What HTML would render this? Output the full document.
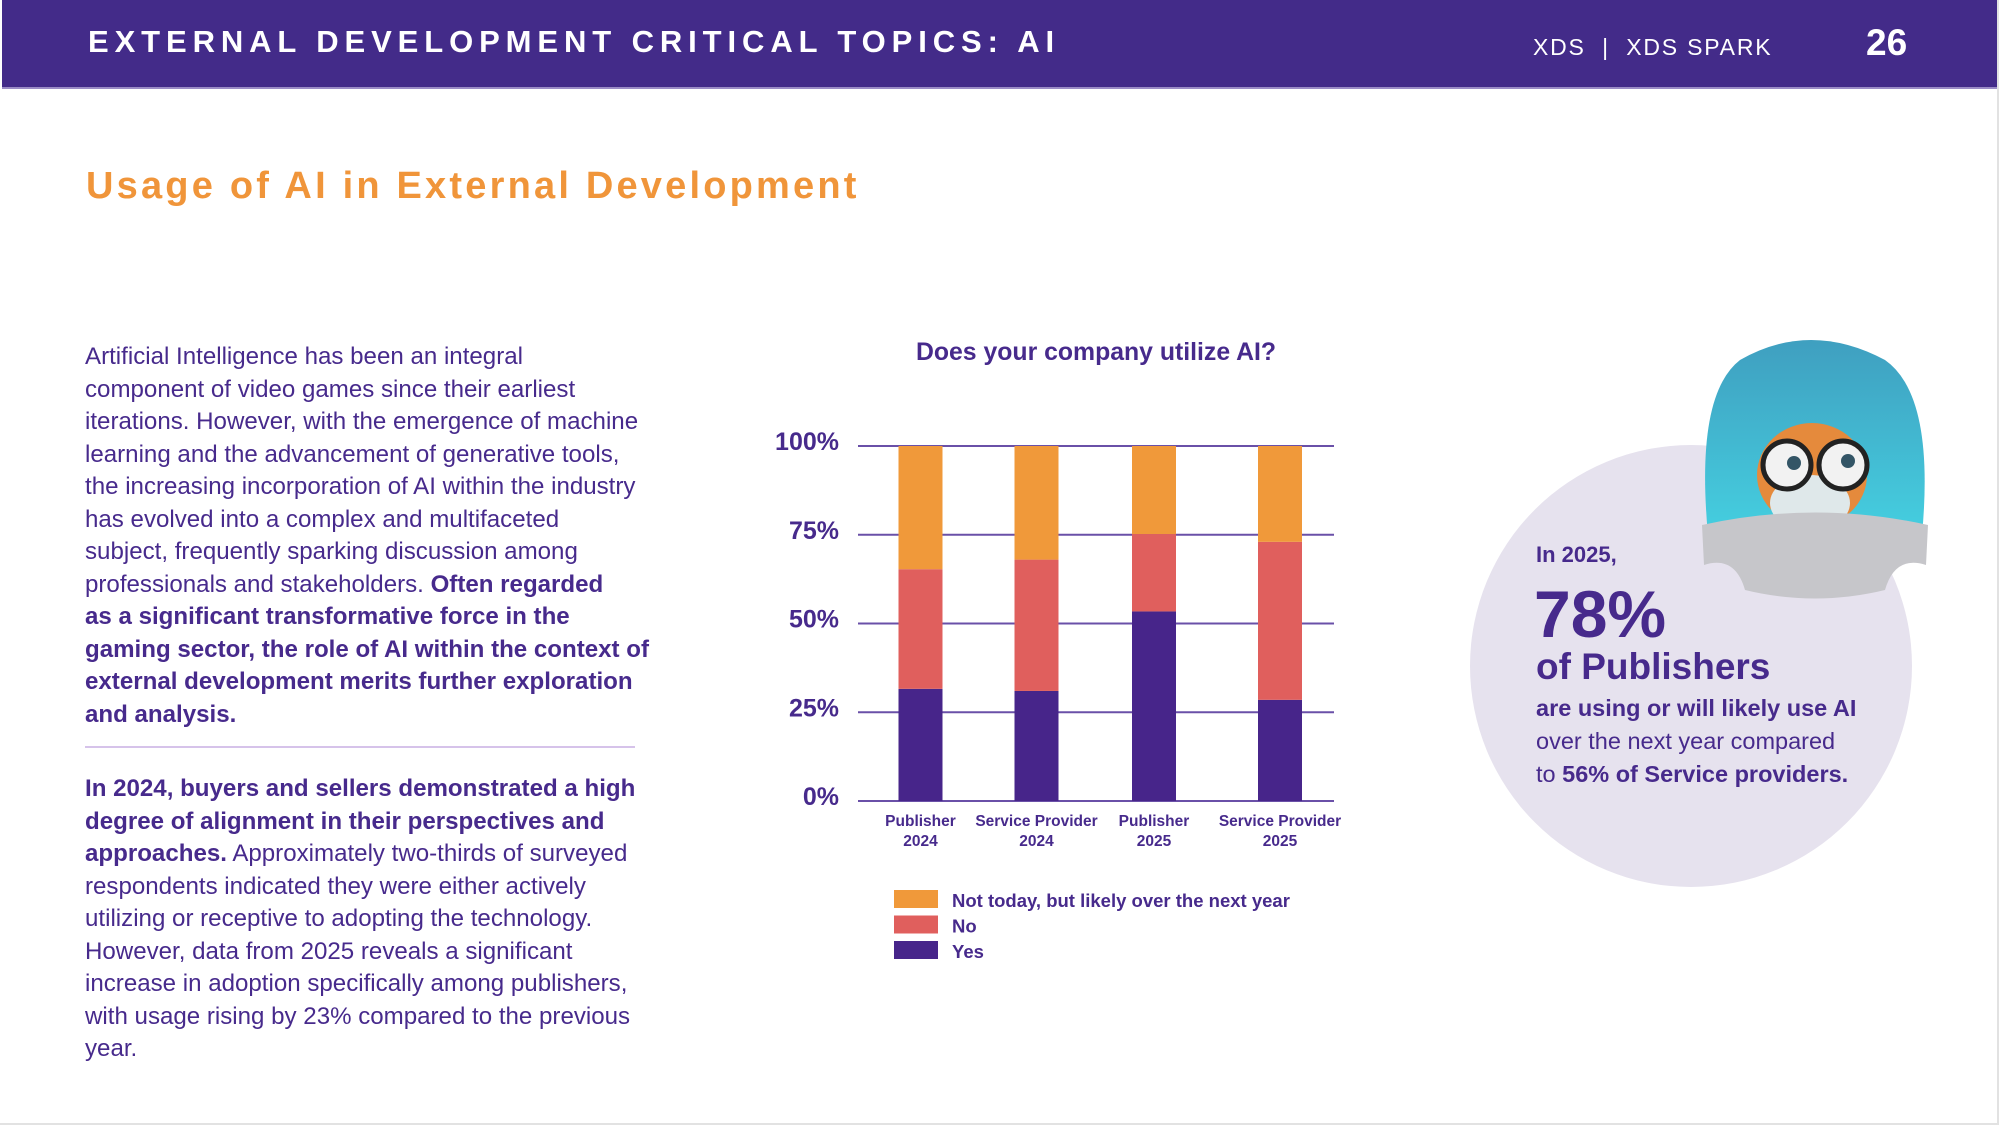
<!DOCTYPE html>
<html><head><meta charset="utf-8">
<style>
*{margin:0;padding:0;box-sizing:border-box}
body{width:1999px;height:1125px;background:#fff;font-family:"Liberation Sans",Arial,sans-serif;position:relative;overflow:hidden;color:#472a8c}
.hdr{position:absolute;left:2px;top:0;width:1995px;height:89px;background:#432b89;border-bottom:2px solid #9b8cc6}
.abs{position:absolute;white-space:nowrap}
.body{position:absolute;left:85px;width:620px;font-size:24.1px;line-height:32.5px;color:#472a8c}
.body b{font-weight:bold}
</style></head><body>
<div style="position:absolute;right:0;top:0;width:2px;height:1125px;background:#e2e2e2"></div>
<div style="position:absolute;left:0;bottom:0;width:1999px;height:2px;background:#e2e2e2"></div>
<div class="hdr">
  <div class="abs" style="left:86px;top:24px;font-size:31px;font-weight:bold;letter-spacing:5.9px;color:#fff">EXTERNAL DEVELOPMENT CRITICAL TOPICS: AI</div>
  <div class="abs" style="left:1531px;top:34px;font-size:23px;letter-spacing:1.8px;color:#fff">XDS &nbsp;|&nbsp; XDS SPARK</div>
  <div class="abs" style="left:1864px;top:22px;font-size:37px;font-weight:bold;color:#fff">26</div>
</div>
<div class="abs" style="left:86px;top:165px;font-size:38px;font-weight:bold;letter-spacing:3.2px;color:#f0953a">Usage of AI in External Development</div>

<div class="body" style="top:341px">Artificial Intelligence has been an integral<br>component of video games since their earliest<br>iterations. However, with the emergence of machine<br>learning and the advancement of generative tools,<br>the increasing incorporation of AI within the industry<br>has evolved into a complex and multifaceted<br>subject, frequently sparking discussion among<br>professionals and stakeholders. <b>Often regarded<br>as a significant transformative force in the<br>gaming sector, the role of AI within the context of<br>external development merits further exploration<br>and analysis.</b></div>
<div style="position:absolute;left:85px;top:746px;width:550px;height:2px;background:#d6c3ea"></div>
<div class="body" style="top:773px"><b>In 2024, buyers and sellers demonstrated a high<br>degree of alignment in their perspectives and<br>approaches.</b> Approximately two-thirds of surveyed<br>respondents indicated they were either actively<br>utilizing or receptive to adopting the technology.<br>However, data from 2025 reveals a significant<br>increase in adoption specifically among publishers,<br>with usage rising by 23% compared to the previous<br>year.</div>

<svg id="chart" style="position:absolute;left:0;top:0" width="1999" height="1125">
<text x="1096" y="360" text-anchor="middle" font-size="24.8" font-weight="bold" fill="#472a8c" font-family="Liberation Sans, Arial, sans-serif">Does your company utilize AI?</text>
<g id="grid"></g><g id="bars"></g><g id="xl"></g><g id="leg"></g>
</svg>

<div style="position:absolute;left:1470px;top:445px;width:442px;height:442px;border-radius:50%;background:#e6e2ee"></div>
<svg style="position:absolute;left:1690px;top:335px" width="250" height="270">
  <defs><linearGradient id="w" x1="0" y1="0" x2="0" y2="1"><stop offset="0" stop-color="#3f9fc0"/><stop offset="1" stop-color="#45cfe0"/></linearGradient></defs>
  <path d="M18 200 Q5 60 50 25 Q120 -15 195 25 Q245 60 232 200 Z" fill="url(#w)"/>
  <ellipse cx="122" cy="140" rx="55" ry="52" fill="#e58a3c"/>
  <ellipse cx="120" cy="168" rx="40" ry="28" fill="#dfe8ea"/>
  <circle cx="97" cy="130" r="24" fill="#f2f2f2" stroke="#222" stroke-width="5"/>
  <circle cx="153" cy="130" r="24" fill="#f2f2f2" stroke="#222" stroke-width="5"/>
  <circle cx="104" cy="128" r="7" fill="#356"/><circle cx="158" cy="126" r="7" fill="#356"/>
  <path d="M12 190 Q125 165 238 190 L236 230 Q205 220 195 255 Q125 272 55 255 Q45 220 14 230 Z" fill="#c6c6ca"/>
</svg>
<div class="abs" style="left:1536px;top:542px;font-size:22px;font-weight:bold;color:#472a8c">In 2025,</div>
<div class="abs" style="left:1534px;top:576px;font-size:66px;font-weight:bold;color:#472a8c">78%</div>
<div class="abs" style="left:1536px;top:646px;font-size:37px;font-weight:bold;color:#472a8c">of Publishers</div>
<div class="abs" style="left:1536px;top:692px;font-size:23.5px;line-height:33px;color:#472a8c"><b>are using or will likely use AI</b><br>over the next year compared<br>to <b>56% of Service providers.</b></div>

<script>
const categories=[["Publisher","2024"],["Service Provider","2024"],["Publisher","2025"],["Service Provider","2025"]];
const yesVals=[31.6,31,53.4,28.5];
const noVals=[33.7,37,21.8,44.5];
const notTodayVals=[34.7,32,24.8,27];
const tickVals=[0,25,50,75,100];
const tickLabels=["0%","25%","50%","75%","100%"];
const seriesNames=["Not today, but likely over the next year","No","Yes"];
const colors={yes:"#47258a",no:"#e05f5d",nt:"#f0993a"};
const NS="http://www.w3.org/2000/svg";
const y0=801,y1=446,xL=858,xR=1334;
const y=v=>y0-(v/100)*(y0-y1);
const barCenters=[920.5,1036.5,1154,1280];
const bw=44;
function mk(p,tag,at,txt){const e=document.createElementNS(NS,tag);for(const k in at)e.setAttribute(k,at[k]);if(txt!==undefined)e.textContent=txt;p.appendChild(e);return e;}
const F="Liberation Sans, Arial, sans-serif";
const g=document.getElementById('grid');
tickVals.forEach((t,i)=>{
  const l=mk(g,'line',{x1:xL,x2:xR,y1:y(t),y2:y(t),stroke:'#6a50a8','stroke-width':2});
  
  
  const tx=mk(g,'text',{x:839,y:y(t)+4,'text-anchor':'end','font-size':25,'font-weight':'bold',fill:'#472a8c','font-family':F},tickLabels[i]);
  
  
});
const b=document.getElementById('bars');
categories.forEach((c,i)=>{
  const cx=barCenters[i];
  const segs=[[0,yesVals[i],colors.yes,'bar-yes'],[yesVals[i],yesVals[i]+noVals[i],colors.no,'bar-no'],[yesVals[i]+noVals[i],yesVals[i]+noVals[i]+notTodayVals[i],colors.nt,'bar-not-today']];
  segs.forEach(s=>{
    const r=mk(b,'rect',{x:cx-bw/2,y:y(s[1]),width:bw,height:y(s[0])-y(s[1]),fill:s[2]});
    
    
  });
  const xl=document.getElementById('xl');
  c.forEach((ln,j)=>{
    const t=mk(xl,'text',{x:cx,y:826+j*20,'text-anchor':'middle','font-size':15.5,'font-weight':'bold',fill:'#472a8c','font-family':F},ln);
    
    
  });
});
const lg=document.getElementById('leg');
[colors.nt,colors.no,colors.yes].forEach((col,i)=>{
  const r=mk(lg,'rect',{x:894,y:890+i*25.5,width:44,height:18,fill:col});
  
  
  const t=mk(lg,'text',{x:952,y:907+i*25.5,'font-size':18.5,'font-weight':'bold',fill:'#472a8c','font-family':F},seriesNames[i]);
  
  
});
</script>
</body></html>
